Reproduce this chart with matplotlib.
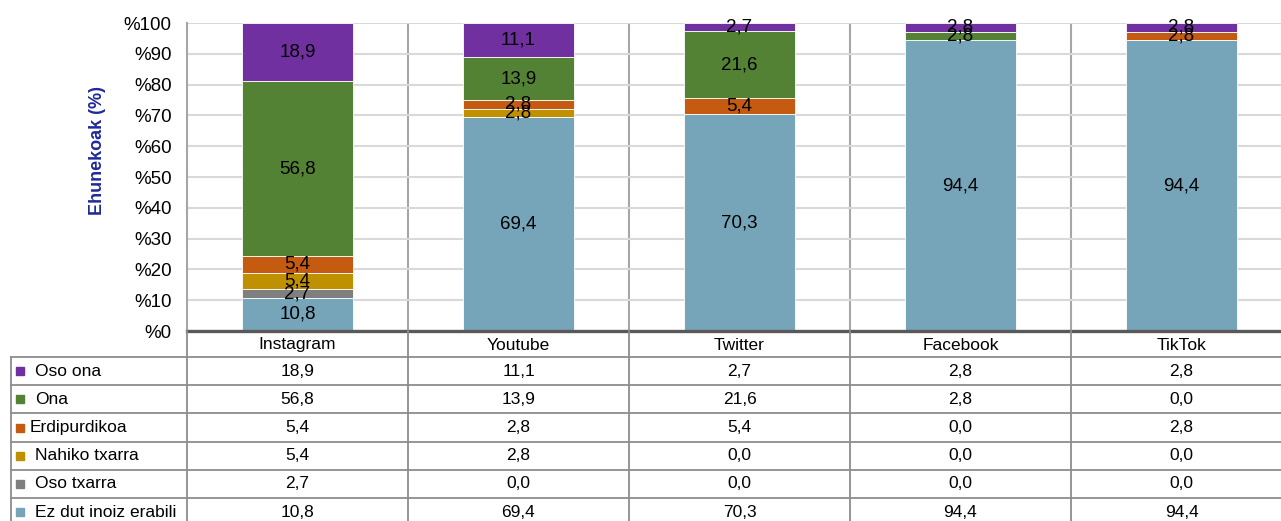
import numpy as np
import matplotlib
matplotlib.use("Agg")
import matplotlib.pyplot as plt

plt.rcParams['font.family'] = ['Liberation Sans', 'DejaVu Sans']

# platforms (columns) and answer categories (series, bottom to top)
platforms = ['Instagram', 'Youtube', 'Twitter', 'Facebook', 'TikTok']
categories = ['Ez dut inoiz erabili', 'Oso txarra', 'Nahiko txarra',
              'Erdipurdikoa', 'Ona', 'Oso ona']
colors = ['#76A4B9', '#7F7F7F', '#BF9000', '#C55A11', '#548235', '#7030A0']

ez_dut = [10.8, 69.4, 70.3, 94.4, 94.4]
oso_txarra = [2.7, 0.0, 0.0, 0.0, 0.0]
nahiko_txarra = [5.4, 2.8, 0.0, 0.0, 0.0]
erdipurdikoa = [5.4, 2.8, 5.4, 0.0, 2.8]
ona = [56.8, 13.9, 21.6, 2.8, 0.0]
oso_ona = [18.9, 11.1, 2.7, 2.8, 2.8]

series = [ez_dut, oso_txarra, nahiko_txarra, erdipurdikoa, ona, oso_ona]

W, H = 1281, 521
fig = plt.figure(figsize=(W / 100, H / 100), dpi=100)

# pixel layout
x0, colw = 187, 221
ncol = len(platforms)
y_top, y_zero = 23, 331
row_h = 28.2
t_top = 357

ax = fig.add_axes([x0 / W, (H - y_zero) / H, colw * ncol / W, (y_zero - y_top) / H])
x = np.arange(ncol)
bottom = np.zeros(ncol)
for vals, c in zip(series, colors):
    vals = np.array(vals)
    ax.bar(x, vals, 0.5, bottom=bottom, color=c, edgecolor='white', linewidth=0.6, zorder=3)
    for xi, v, b in zip(x, vals, bottom):
        if v > 0:
            ax.text(xi, b + v / 2, f'{v:.1f}'.replace('.', ','), ha='center', va='center',
                    fontsize=13.5, color='black', zorder=4)
    bottom += vals

ax.set_xlim(-0.5, ncol - 0.5)
ax.set_ylim(0, 100)
ax.set_yticks(np.arange(0, 101, 10))
ax.set_yticklabels([f'%{v}' for v in range(0, 101, 10)], fontsize=13.5)
ax.tick_params(axis='y', length=0, pad=11)
ax.set_xticks([])
ax.grid(axis='y', color='#D9D9D9', linewidth=1.5, zorder=0)
for s in ['top', 'right']:
    ax.spines[s].set_visible(False)
ax.spines['left'].set_color('#A6A6A6')
ax.spines['left'].set_linewidth(1.5)
ax.spines['bottom'].set_color('#595959')
ax.spines['bottom'].set_linewidth(2.4)
ax.spines['bottom'].set_zorder(5)
for xi in x[1:]:
    ax.axvline(xi - 0.5, color='#A6A6A6', linewidth=1.5, zorder=1)
ax.set_ylabel('Ehunekoak (%)', fontsize=13, fontweight='bold', color='#1F2A99')
ax.yaxis.set_label_coords(-0.073, 0.585)

# data table drawn in pixel coordinates
tb = fig.add_axes([0, 0, 1, 1])
tb.set_xlim(0, W)
tb.set_ylim(H, 0)
tb.axis('off')
line_c = '#8C8C8C'
col_edges = [x0 + colw * i for i in range(ncol + 1)]
rows = categories[::-1]
row_vals = series[::-1]
row_cols = colors[::-1]
n_rows = len(rows)
ys = [t_top + row_h * i for i in range(n_rows + 1)]

for i, p in enumerate(platforms):
    tb.text(x0 + colw * (i + 0.5), (y_zero + t_top) / 2 + 1, p, ha='center',
            va='center', fontsize=12.5)
for yy in ys:
    tb.plot([11, W], [yy, yy], color=line_c, linewidth=1.3)
tb.plot([11, 11], [t_top, H], color=line_c, linewidth=1.3)
for xe in col_edges[:-1]:
    tb.plot([xe, xe], [y_zero, H], color=line_c, linewidth=1.3)

for r, (name, vals, c) in enumerate(zip(rows, row_vals, row_cols)):
    yc = t_top + row_h * (r + 0.5)
    tb.add_patch(plt.Rectangle((16, yc - 4), 8, 8, color=c))
    tx = 30 if name == 'Erdipurdikoa' else 35
    tb.text(tx, yc, name, ha='left', va='center', fontsize=12.5)
    for i, v in enumerate(vals):
        tb.text(x0 + colw * (i + 0.5), yc, f'{v:.1f}'.replace('.', ','),
                ha='center', va='center', fontsize=12.5)

fig.savefig('out.png', dpi=100)
